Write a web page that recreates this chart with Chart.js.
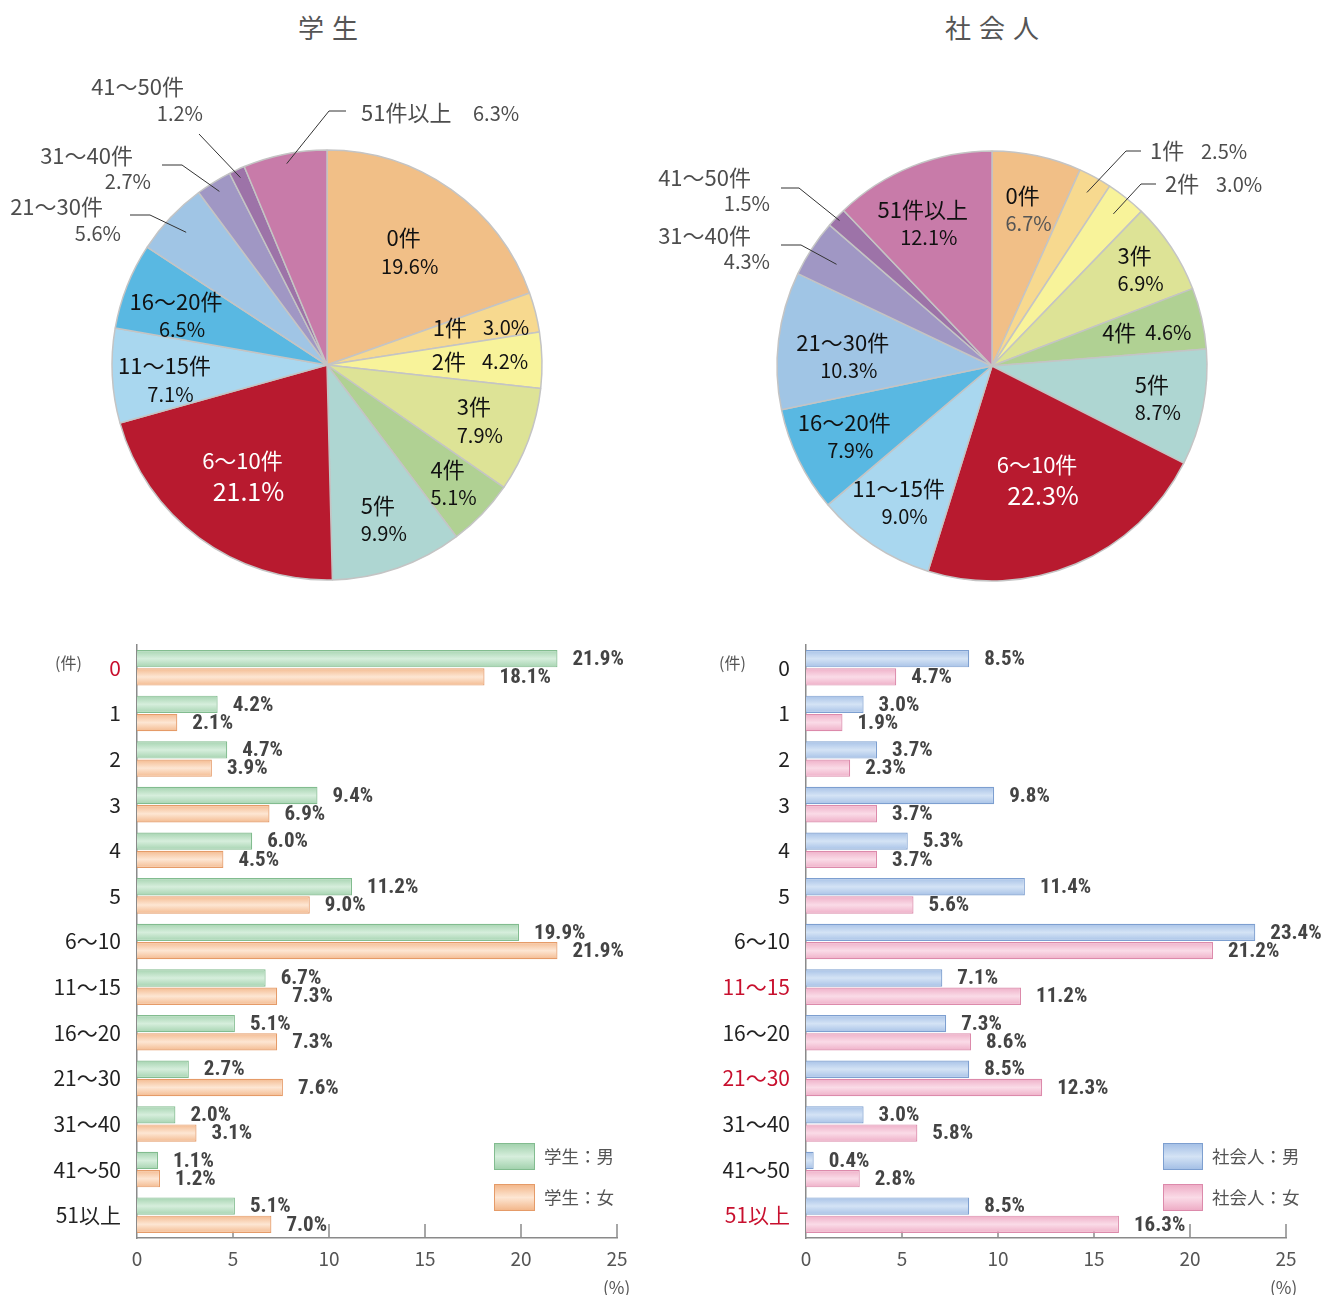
<!DOCTYPE html>
<html><head><meta charset="utf-8">
<script src="https://cdn.jsdelivr.net/npm/chart.js@4.4.1/dist/chart.umd.min.js"></script>
<style>
body{margin:0;background:#fff;width:1333px;height:1295px;position:relative;overflow:hidden;font-family:"Noto Sans CJK JP","Noto Sans",sans-serif;}
canvas{position:absolute;}
.t{position:absolute;color:#555;white-space:nowrap;}
.box{position:absolute;box-sizing:border-box;}
</style></head><body>
<div class="t" style="left:231px;top:8px;width:200px;padding-left:2px;box-sizing:border-box;text-align:center;font-size:26px;line-height:38px;letter-spacing:8px;">学生</div>
<div class="t" style="left:895px;top:8px;width:200px;padding-left:2px;box-sizing:border-box;text-align:center;font-size:26px;line-height:38px;letter-spacing:8px;">社会人</div>
<canvas id="pie1" width="665" height="620" style="left:0;top:0"></canvas>
<canvas id="pie2" width="693" height="620" style="left:640px;top:0"></canvas>
<canvas id="bar1" width="665" height="665" style="left:0;top:630px"></canvas>
<canvas id="bar2" width="668" height="665" style="left:665px;top:630px"></canvas>
<div class="t" style="left:55px;top:652px;font-size:16px;line-height:20px;">(件)</div>
<div class="t" style="left:719px;top:652px;font-size:16px;line-height:20px;">(件)</div>
<div class="t" style="left:603px;top:1277px;font-size:17px;line-height:20px;">(%)</div>
<div class="t" style="left:1270px;top:1277px;font-size:17px;line-height:20px;">(%)</div>
<div class="box" style="left:494px;top:1143px;width:41px;height:27px;border:1px solid #82BC8F;background:linear-gradient(#A3D2AE,#D6EEDC 50%,#A3D2AE);"></div>
<div class="box" style="left:494px;top:1184px;width:41px;height:27px;border:1px solid #E59B68;background:linear-gradient(#F3B88C,#FDE6D3 50%,#F3B88C);"></div>
<div class="t" style="left:544px;top:1145px;font-size:17.5px;line-height:22px;">学生：男</div>
<div class="t" style="left:544px;top:1186px;font-size:17.5px;line-height:22px;">学生：女</div>
<div class="box" style="left:1163px;top:1143px;width:40px;height:27px;border:1px solid #7D9FD0;background:linear-gradient(#A5C0E6,#D4E3F5 50%,#A5C0E6);"></div>
<div class="box" style="left:1163px;top:1184px;width:40px;height:27px;border:1px solid #DC8AAB;background:linear-gradient(#EEADC6,#FADBE7 50%,#EEADC6);"></div>
<div class="t" style="left:1212px;top:1145px;font-size:17.5px;line-height:22px;">社会人：男</div>
<div class="t" style="left:1212px;top:1186px;font-size:17.5px;line-height:22px;">社会人：女</div>
<script>
// ---------- data ----------
const pieCategories = ['0件','1件','2件','3件','4件','5件','6～10件','11～15件','16～20件','21～30件','31～40件','41～50件','51件以上'];
const studentPie = [19.6,3.0,4.2,7.9,5.1,9.9,21.1,7.1,6.5,5.6,2.7,1.2,6.3];
const workerPie  = [6.7,2.5,3.0,6.9,4.6,8.7,22.3,9.0,7.9,10.3,4.3,1.5,12.1];

const barCategories = ['0','1','2','3','4','5','6～10','11～15','16～20','21～30','31～40','41～50','51以上'];
const studentMale   = [21.9,4.2,4.7,9.4,6.0,11.2,19.9,6.7,5.1,2.7,2.0,1.1,5.1];
const studentFemale = [18.1,2.1,3.9,6.9,4.5,9.0,21.9,7.3,7.3,7.6,3.1,1.2,7.0];
const workerMale    = [8.5,3.0,3.7,9.8,5.3,11.4,23.4,7.1,7.3,8.5,3.0,0.4,8.5];
const workerFemale  = [4.7,1.9,2.3,3.7,3.7,5.6,21.2,11.2,8.6,12.3,5.8,2.8,16.3];
const xTickValues = [0,5,10,15,20,25];
const seriesNames = ['学生：男','学生：女','社会人：男','社会人：女'];

// ---------- styles ----------
const F = "'Noto Sans CJK JP','Noto Sans',sans-serif";
const pieColors = ['#F1BF87','#F7D98F','#F8F39A','#DDE396','#B0D193','#AED6D2','#B81A2F','#A9D7EF','#59B8E2','#A0C5E5','#A097C4','#9D73A8','#C87BA9'];
const studentHighlight = [0];
const workerHighlight = [7,9,12];

const pie1Layout = [
 {t:'in', rf:.643},
 {t:'one', rf:.71, gap:16},
 {t:'one', rf:.684, gap:16},
 {t:'in', rf:.744},
 {t:'in', rf:.797},
 {t:'in', rf:.76},
 {t:'in', rf:.638, color:'#fff', big:true},
 {t:'in', rf:.743, dy:7},
 {t:'in', rf:.725, dx:-3, dy:8},
 {t:'outL', rf:.9, ex:-177, ey:-150, hx:-197, n:[-224,-158], v:[-206,-132]},
 {t:'outL', rf:.95, ex:-145, ey:-200, hx:-165, n:[-194,-209], v:[-176,-184]},
 {t:'outL', rf:.96, ex:-128, ey:-231, hx:-128, n:[-143,-278], v:[-124,-252]},
 {t:'outR', rf:.955, ex:2, ey:-254, hx:19, n:[34,-252], v:[146,-252]}
];
const pie2Layout = [
 {t:'in', rf:.746, pctColor:'#555'},
 {t:'outR', rf:.92, ex:134, ey:-215, hx:149, n:[158,-215], v:[209,-215]},
 {t:'outR', rf:.905, ex:149, ey:-182, hx:164, n:[173,-182], v:[224,-182]},
 {t:'in', rf:.813},
 {t:'one', rf:.71, gap:9},
 {t:'in', rf:.772},
 {t:'in', rf:.574, color:'#fff', big:true},
 {t:'in', rf:.761},
 {t:'in', rf:.749},
 {t:'in', rf:.685, dy:8},
 {t:'outL', rf:.864, ex:-191, ey:-121, hx:-211, n:[-241,-130], v:[-222,-105]},
 {t:'outL', rf:.98, ex:-193, ey:-178, hx:-211, n:[-241,-188], v:[-222,-163]},
 {t:'in', rf:.728, dx:-8, dy:3}
];

function makePieLabels(layout){
 return {id:'pieLabels', afterDatasetsDraw(chart){
  const ctx=chart.ctx, meta=chart.getDatasetMeta(0), ds=chart.data.datasets[0];
  meta.data.forEach((arc,i)=>{
   const L=layout[i]; if(!L) return;
   const p=arc.getProps(['x','y','startAngle','endAngle','outerRadius'],true);
   const mid=(p.startAngle+p.endAngle)/2, R=p.outerRadius;
   const ax=p.x+Math.cos(mid)*R*L.rf+(L.dx||0), ay=p.y+Math.sin(mid)*R*L.rf+(L.dy||0);
   const name=chart.data.labels[i], pct=ds.data[i].toFixed(1)+'%';
   ctx.save(); ctx.textBaseline='middle';
   if(L.t==='in'){
     const big=!!L.big;
     ctx.textAlign='center';
     ctx.fillStyle=L.color||'#111';
     ctx.font='22px '+F; ctx.fillText(name, ax-3, ay-(big?15:14));
     ctx.fillStyle=L.pctColor||L.color||'#111';
     ctx.font=(big?25:20)+'px '+F; ctx.fillText(pct, ax+3, ay+(big?16:14));
   } else if(L.t==='one'){
     ctx.fillStyle='#111';
     ctx.font='22px '+F; ctx.textAlign='right'; ctx.fillText(name, ax-L.gap/2, ay);
     ctx.font='20px '+F; ctx.textAlign='left'; ctx.fillText(pct, ax+L.gap/2, ay);
   } else {
     ctx.strokeStyle='#333'; ctx.lineWidth=1;
     ctx.beginPath(); ctx.moveTo(ax,ay); ctx.lineTo(p.x+L.ex,p.y+L.ey); ctx.lineTo(p.x+L.hx,p.y+L.ey); ctx.stroke();
     ctx.fillStyle='#4d4d4d'; ctx.textAlign=(L.t==='outL')?'right':'left';
     ctx.font='22px '+F; ctx.fillText(name,p.x+L.n[0],p.y+L.n[1]);
     ctx.font='20px '+F; ctx.fillText(pct,p.x+L.v[0],p.y+L.v[1]);
   }
   ctx.restore();
  });
 }};
}

function pieConfig(values, layout, pad){
 return {
  type:'pie',
  data:{labels:pieCategories, datasets:[{data:values, backgroundColor:pieColors, borderColor:'#c4c4c4', borderWidth:1.5, hoverOffset:0}]},
  options:{responsive:false, animation:false, events:[], radius:215,
   layout:{padding:pad},
   plugins:{legend:{display:false}, tooltip:{enabled:false}}},
  plugins:[makePieLabels(layout)]
 };
}

new Chart(document.getElementById('pie1'), pieConfig(studentPie, pie1Layout, {left:0,right:11,top:110,bottom:0}));
new Chart(document.getElementById('pie2'), pieConfig(workerPie, pie2Layout, {left:11,right:0,top:112,bottom:0}));

// ---------- bars ----------
const CAT_PCT = 0.8, BAR_PCT = 0.95;
function barFill(edge, mid){
 return (c)=>{
  const chart=c.chart, y=chart.scales && chart.scales.y;
  if(!chart.chartArea || !y || c.type!=='data' || !isFinite(y.getPixelForValue(0))) return mid;
  const center=y.getPixelForValue(c.dataIndex);
  const cat=Math.abs(y.getPixelForValue(1)-y.getPixelForValue(0));
  const slot=cat*CAT_PCT/2;
  const top=center+(c.datasetIndex===0?-slot:0);
  const g=chart.ctx.createLinearGradient(0,top,0,top+slot);
  g.addColorStop(0,edge); g.addColorStop(0.5,mid); g.addColorStop(1,edge);
  return g;
 };
}
const tickMarks = {id:'tickMarks', beforeDatasetsDraw(chart){
 const ctx=chart.ctx, x=chart.scales.x, b=chart.chartArea.bottom;
 ctx.save(); ctx.strokeStyle='#8a8a8a'; ctx.lineWidth=1.5;
 xTickValues.forEach(v=>{ if(v===0) return; const px=x.getPixelForValue(v); ctx.beginPath(); ctx.moveTo(px,b); ctx.lineTo(px,b-14); ctx.stroke(); });
 ctx.restore();
}};
const barLabels = {id:'barLabels', afterDatasetsDraw(chart){
 const ctx=chart.ctx;
 ctx.save(); ctx.fillStyle='#444'; ctx.textBaseline='middle'; ctx.textAlign='left';
 ctx.font="bold 21px 'Liberation Sans Narrow','Roboto Condensed',Roboto,sans-serif";
 chart.data.datasets.forEach((ds,di)=>{
  chart.getDatasetMeta(di).data.forEach((bar,i)=>{
   ctx.fillText(ds.data[i].toFixed(1)+'%', bar.x+15, bar.y+1);
  });
 });
 ctx.restore();
}};

function barConfig(male, female, names, cols, highlight, yWidth){
 return {
  type:'bar',
  data:{labels:barCategories, datasets:[
   {label:names[0], data:male, backgroundColor:barFill(cols[0].edge, cols[0].mid), borderColor:cols[0].border, borderWidth:1.2, categoryPercentage:CAT_PCT, barPercentage:BAR_PCT},
   {label:names[1], data:female, backgroundColor:barFill(cols[1].edge, cols[1].mid), borderColor:cols[1].border, borderWidth:1.2, categoryPercentage:CAT_PCT, barPercentage:BAR_PCT}
  ]},
  options:{indexAxis:'y', responsive:false, animation:false, events:[],
   layout:{padding:{left:0,right:0,top:15,bottom:0}},
   plugins:{legend:{display:false}, tooltip:{enabled:false}},
   scales:{
    x:{min:0,max:25, ticks:{stepSize:5, color:'#555', font:{size:19,family:F}, padding:9},
       grid:{display:false, drawTicks:false}, border:{display:true,color:'#8a8a8a',width:1.5},
       afterFit(s){s.height=57; s.paddingLeft=0; s.paddingRight=0;}},
    y:{ticks:{color:(c)=>highlight.includes(c.index)?'#C8102E':'#222', font:{size:21,family:F}, padding:16},
       grid:{display:false, drawTicks:false}, border:{display:true,color:'#8a8a8a',width:1.5},
       afterFit(s){s.width=yWidth; s.paddingTop=0; s.paddingBottom=0;}}
   }
  },
  plugins:[tickMarks, barLabels]
 };
}
const greenC={edge:'#A3D2AE', mid:'#D6EEDC', border:'#82BC8F'};
const orangeC={edge:'#F3B88C', mid:'#FDE6D3', border:'#E59B68'};
const blueC={edge:'#A5C0E6', mid:'#D4E3F5', border:'#7D9FD0'};
const pinkC={edge:'#EEADC6', mid:'#FADBE7', border:'#DC8AAB'};

const b1=barConfig(studentMale, studentFemale, seriesNames.slice(0,2), [greenC,orangeC], studentHighlight, 137);
b1.options.layout.padding.right=48;
new Chart(document.getElementById('bar1'), b1);
const b2=barConfig(workerMale, workerFemale, seriesNames.slice(2,4), [blueC,pinkC], workerHighlight, 141);
b2.options.layout.padding.right=47;
new Chart(document.getElementById('bar2'), b2);
</script>
</body></html>
